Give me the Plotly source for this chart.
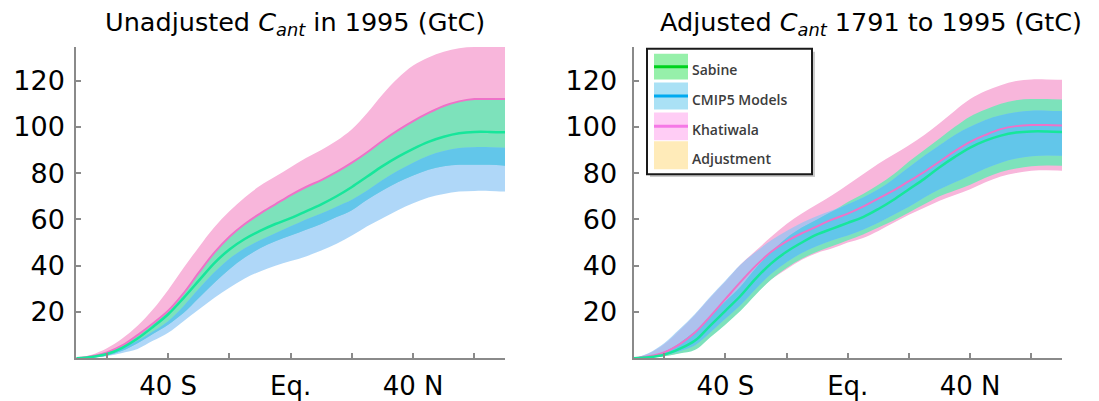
import numpy as np
import plotly.graph_objects as go

# ---------------- data ----------------
lat = [-70, -65, -60, -55, -50, -45, -40, -35, -30, -25, -20, -15, -10, -5, 0,
       5, 10, 15, 20, 25, 30, 35, 40, 45, 50, 55, 60, 65, 70]

# Left panel: unadjusted C_ant in 1995
L_khat_hi = [0, 1.5, 4.3, 8.5, 14, 21, 29.5, 39, 48, 56.5, 63.5, 69.5, 74.5, 78.5, 82.5, 86.5, 90, 94, 99, 106, 114, 121, 126.5, 130, 132.5, 134, 134.5, 134.5, 134.5]
L_khat_mid = [0, 0.8, 2.5, 5.5, 10, 15, 20.5, 28, 37, 45.5, 52.5, 58, 62.5, 66.5, 70.5, 74, 77, 80.5, 84.5, 89, 94, 98.5, 102.5, 106, 109, 111, 112, 112, 112]
L_khat_lo = [0, 0.3, 1, 3.5, 7, 11, 15, 20, 27, 34, 41, 46, 50, 54, 58, 61, 63, 66, 70, 72, 75, 77, 79.5, 83, 85.5, 88, 89.5, 89.5, 89.5]
L_sab_hi = [0, 0.8, 2.5, 5.5, 10, 15, 20.5, 28, 37, 45.5, 52.5, 58, 62.5, 66.5, 70.5, 74, 77, 80.5, 84.5, 89, 94, 98.5, 102.5, 106, 109, 111, 112, 112, 112]
L_sab_mid = [0, 0.5, 1.8, 4.5, 8.5, 13.5, 19, 26, 33.5, 41, 47, 51.5, 55, 58, 60.5, 63.5, 66.5, 70, 74, 78.5, 83, 87, 90.5, 93.5, 95.7, 97.2, 97.8, 97.8, 97.6]
L_sab_lo = [0, 0.3, 1.2, 3.2, 6.5, 10.5, 14.5, 19.5, 26, 32.5, 38.5, 43.5, 47.5, 50.5, 53, 55.5, 58, 61, 64, 68.5, 72.5, 76, 79, 81.5, 83, 83.6, 83.6, 83.6, 83.2]
L_cmip_hi = [0, 0.6, 2, 4.5, 7.5, 11.5, 16, 22.5, 30, 37, 43, 47.5, 51, 54, 57, 60, 62.5, 65.5, 68.5, 72.5, 77, 81, 84.5, 87.5, 89.5, 90.8, 91.2, 91.2, 91]
L_cmip_lo = [0, 0.2, 1, 2.3, 4, 7.5, 11, 16, 21, 26, 30.5, 34.5, 37.5, 40, 42, 44, 46.5, 49.5, 53, 57, 60.5, 64, 67, 69.5, 71, 72, 72.3, 72.3, 72]

# Right panel: adjusted C_ant 1791 to 1995
R_khat_hi = [0, 2, 6, 12, 18.6, 26, 33, 40.5, 46.5, 52.5, 58, 62.5, 66.5, 70.5, 75, 79.5, 84, 88, 92, 96.5, 101.5, 107, 112, 115.5, 118, 119.8, 120.5, 120.5, 120.4]
R_khat_mid = [0, 0.8, 2.5, 6, 11, 18, 25.5, 33, 40, 46, 50.5, 54, 57, 60, 62.5, 65.5, 69, 72.5, 76.5, 80.5, 85, 89.5, 93.5, 96.5, 99, 100.3, 100.8, 100.8, 100.6]
R_khat_lo = [0, 0.2, 0.8, 2.3, 4, 9.5, 15, 21, 28, 34, 38.5, 42.5, 45.5, 47.5, 50, 52, 55, 58.5, 62, 65, 68, 70.5, 73, 76, 78.5, 80, 81, 81.2, 81]
R_sab_hi = [0, 0.8, 2.8, 6.5, 11.5, 18, 24.5, 31, 39, 46, 52, 56.5, 60, 63.5, 67.5, 71, 75, 79.5, 85, 90, 95, 100, 104.5, 107.5, 110, 111.5, 112, 112, 111.8]
R_sab_mid = [0, 0.4, 1.5, 4, 7.5, 14, 20.5, 27, 34.5, 41, 46, 50, 53.5, 56, 58.5, 61, 64.5, 68.5, 73, 77.5, 82.5, 87, 91, 94, 96.2, 97.5, 98, 98, 97.8]
R_sab_lo = [0, 0.2, 0.8, 2, 3.5, 9, 14.5, 20.5, 27.5, 34, 39, 43, 46, 48.5, 51, 53.5, 56.5, 59.5, 63, 66.5, 70, 72.5, 75, 78, 80.5, 82, 83, 83.3, 83.2]
R_cmip_hi = [0, 2.3, 6.5, 12.5, 19, 26.5, 33.5, 40.5, 46, 51, 55, 58.5, 61.5, 64, 66.5, 69.5, 73, 77.5, 82.5, 87.5, 92, 96.5, 100, 103, 105, 106.3, 107, 107, 106.8]
R_cmip_lo = [0, 0.4, 1.3, 3, 5.5, 11, 17, 23, 30, 36.5, 41.5, 45.5, 48.5, 51, 53, 55.5, 58.5, 62, 65.5, 69.5, 73, 76, 79, 82, 84.5, 86.3, 87.3, 87.6, 87.5]

panel_titles = ["Unadjusted <i>C</i><sub><i>ant</i></sub> in 1995 (GtC)",
                "Adjusted <i>C</i><sub><i>ant</i></sub> 1791 to 1995 (GtC)"]
y_ticks = [20, 40, 60, 80, 100, 120]
x_labelled = [-40, 0, 40]
x_labels = ["40 S", "Eq.", "40 N"]
x_minor = [-60, -20, 20, 60]
legend_labels = ["Sabine", "CMIP5 Models", "Khatiwala", "Adjustment"]

# ---------------- styling ----------------
PINK = "#F8B6DB"
GREEN = "#7DE2BB"
LBLUE = "rgba(141,198,245,0.7)"
OVER = "#62C6EA"
PINK_LINE = "#EE72C8"
GREEN_LINE = "#17E69B"
AXIS = "#8a8a8a"
FONT = "DejaVu Sans"

fig = go.Figure()


def band(lo, hi, color, xa, ya, name):
    fig.add_trace(go.Scatter(x=lat, y=lo, mode="lines", line=dict(width=0, shape="spline"),
                             xaxis=xa, yaxis=ya, showlegend=False, hoverinfo="skip", name=name))
    fig.add_trace(go.Scatter(x=lat, y=hi, mode="lines", line=dict(width=0, shape="spline"),
                             fill="tonexty", fillcolor=color, xaxis=xa, yaxis=ya,
                             showlegend=False, name=name))


def panel(k_hi, k_mid, k_lo, s_hi, s_mid, s_lo, c_hi, c_lo, xa, ya):
    band(k_lo, k_hi, PINK, xa, ya, "Khatiwala")
    band(s_lo, s_hi, GREEN, xa, ya, "Sabine")
    band(c_lo, c_hi, LBLUE, xa, ya, "CMIP5 Models")
    ov_lo = np.maximum(np.array(s_lo), np.array(c_lo))
    ov_hi = np.minimum(np.array(s_hi), np.array(c_hi))
    ov_hi = np.maximum(ov_hi, ov_lo)
    band(list(ov_lo), list(ov_hi), OVER, xa, ya, "overlap")
    fig.add_trace(go.Scatter(x=lat, y=k_mid, mode="lines", line=dict(color=PINK_LINE, width=2, shape="spline"),
                             xaxis=xa, yaxis=ya, showlegend=False, name="Khatiwala"))
    fig.add_trace(go.Scatter(x=lat, y=s_mid, mode="lines", line=dict(color=GREEN_LINE, width=2.5, shape="spline"),
                             xaxis=xa, yaxis=ya, showlegend=False, name="Sabine"))


panel(L_khat_hi, L_khat_mid, L_khat_lo, L_sab_hi, L_sab_mid, L_sab_lo, L_cmip_hi, L_cmip_lo, "x", "y")
panel(R_khat_hi, R_khat_mid, R_khat_lo, R_sab_hi, R_sab_mid, R_sab_lo, R_cmip_hi, R_cmip_lo, "x2", "y2")

W, H = 1099, 401
ydom = [(H - 360) / H, (H - 47) / H]

xaxis_common = dict(range=[-70, 70], showgrid=False, zeroline=False, showline=True, linecolor=AXIS,
                    linewidth=2, ticks="inside", ticklen=5, tickwidth=1.5, tickcolor=AXIS,
                    tickmode="array", tickvals=x_labelled, ticktext=x_labels,
                    minor=dict(tickmode="array", tickvals=x_minor, ticks="inside", ticklen=5,
                               tickwidth=1.5, tickcolor=AXIS, showgrid=False),
                    tickfont=dict(family=FONT, size=26, color="#000"),
                    ticklabelstandoff=4)
yaxis_common = dict(range=[0, 134.6], showgrid=False, zeroline=False, showline=True, linecolor=AXIS,
                    linewidth=2, ticks="inside", ticklen=5, tickwidth=1.5, tickcolor=AXIS,
                    tickvals=y_ticks, tickfont=dict(family=FONT, size=27, color="#000"), domain=ydom)

fig.update_layout(
    width=W, height=H, autosize=False,
    margin=dict(l=0, r=0, t=0, b=0),
    paper_bgcolor="white", plot_bgcolor="white",
    xaxis=dict(domain=[76.3 / W, 505 / W], anchor="y", **xaxis_common),
    yaxis=dict(anchor="x", ticklabelstandoff=4, **yaxis_common),
    xaxis2=dict(domain=[633.5 / W, 1062 / W], anchor="y2", **xaxis_common),
    yaxis2=dict(anchor="x2", ticklabelstandoff=9, **yaxis_common),
    showlegend=False,
)

# titles
fig.add_annotation(text=panel_titles[0], x=295 / W, y=1 - 24 / H, xref="paper", yref="paper",
                   showarrow=False, xanchor="center", yanchor="middle",
                   font=dict(family=FONT, size=25.5, color="#000"))
fig.add_annotation(text=panel_titles[1], x=871 / W, y=1 - 24 / H, xref="paper", yref="paper",
                   showarrow=False, xanchor="center", yanchor="middle",
                   font=dict(family=FONT, size=25.5, color="#000"))


# legend (drawn as a box in the right panel)
def px(x):
    return x / W


def py(y):
    return 1 - y / H


shapes = []
shapes.append(dict(type="rect", xref="paper", yref="paper", x0=px(650), x1=px(815), y0=py(52), y1=py(178),
                   fillcolor="rgba(0,0,0,0.2)", line=dict(width=0), layer="above"))
shapes.append(dict(type="rect", xref="paper", yref="paper", x0=px(647), x1=px(812), y0=py(49), y1=py(175),
                   fillcolor="white", line=dict(color="#1a1a1a", width=2), layer="above"))
sw_fill = ["#96F0AA", "#AAE1F5", "#FFCDF5", "#FFEBB9"]
sw_line = ["#00D21E", "#00AAF0", "#F578E6", None]
sw_top = [54, 83, 113, 142]
sw_bot = [80, 110, 141, 170]
for i, lab in enumerate(legend_labels):
    shapes.append(dict(type="rect", xref="paper", yref="paper", x0=px(654), x1=px(688),
                       y0=py(sw_bot[i]), y1=py(sw_top[i]), fillcolor=sw_fill[i], line=dict(width=0), layer="above"))
    mid = (sw_top[i] + sw_bot[i]) / 2
    if sw_line[i]:
        shapes.append(dict(type="line", xref="paper", yref="paper", x0=px(654), x1=px(688),
                           y0=py(mid), y1=py(mid), line=dict(color=sw_line[i], width=3), layer="above"))
    fig.add_annotation(text=lab, x=px(690), y=py(mid + 3), xref="paper", yref="paper", showarrow=False,
                       xanchor="left", yanchor="middle",
                       font=dict(family="Open Sans", size=14, color="#3c3c3c", weight=600))
fig.update_layout(shapes=shapes)

fig.write_html("out.html", config={"displayModeBar": False},
               post_script="document.body.style.margin='0px';")
